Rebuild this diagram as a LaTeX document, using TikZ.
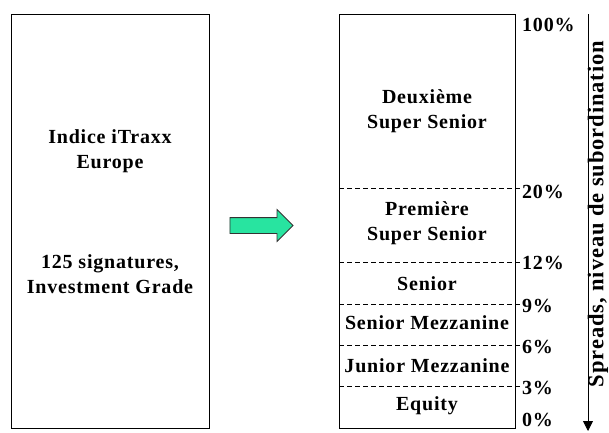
\documentclass[tikz,border=0pt]{standalone}
\usepackage{fontspec}
\setmainfont{Liberation Serif}[LetterSpace=4]
\usetikzlibrary{shapes.arrows,arrows.meta}
\definecolor{flecheverte}{RGB}{40,228,160}
\tikzset{
  texte/.style={font=\bfseries\fontsize{20}{25}\selectfont, align=center, inner sep=0pt},
  pourcent/.style={font=\bfseries\fontsize{20}{25}\selectfont, anchor=west, inner sep=0pt},
  tranche/.style={dash pattern=on 5pt off 3pt},
  boite/.style={draw, line width=1pt, inner sep=0pt},
}

\begin{document}
\begin{tikzpicture}[x=1pt,y=-1pt]
        \useasboundingbox (0,0) rectangle (609,432);
        % les deux boites
        \node[boite, minimum width=198, minimum height=414] (indice) at (110,221) {};
        \node[boite, minimum width=176, minimum height=414] (tranches) at (427,221) {};
        \node[texte] (nom) at (110,151) {Indice iTraxx\\Europe};
        \node[texte] (signatures) at (110,274) {125 signatures,\\Investment Grade};
        % fleche
        \node[single arrow, draw=black!80, line width=0.8pt, fill=flecheverte,
              minimum height=63, inner xsep=0pt, inner ysep=7.5pt,
              single arrow head extend=8pt] (fleche) at (257.5,225.5) {};
        % separations
        \draw[tranche] (339,188) -- (520,188);
        \draw[tranche] (339,262) -- (520,262);
        \draw[tranche] (339,304) -- (520,304);
        \draw[tranche] (339,345) -- (520,345);
        \draw[tranche] (339,386) -- (520,386);
        % tranches
        \node[texte] (deuxieme) at (427,111) {Deuxième\\Super Senior};
        \node[texte] (premiere) at (427,223) {Première\\Super Senior};
        \node[texte] (senior) at (427,284) {Senior};
        \node[texte] (seniormezz) at (427,323) {Senior Mezzanine};
        \node[texte] (juniormezz) at (427,366) {Junior Mezzanine};
        \node[texte] (equity) at (427,406) {Equity};
        % points d'attachement
        \node[pourcent] (p100) at (522,25) {100\%};
        \node[pourcent] (p20) at (522,192) {20\%};
        \node[pourcent] (p12) at (522,263) {12\%};
        \node[pourcent] (p9) at (522,306) {9\%};
        \node[pourcent] (p6) at (522,347) {6\%};
        \node[pourcent] (p3) at (522,388) {3\%};
        \node[pourcent] (p0) at (522,420) {0\%};
        % axe
        \coordinate (haut) at (588,14);
        \coordinate (bas) at (588,431);
        \draw[line width=0.8pt, -{Triangle[length=10pt,width=10pt]}] (haut) -- (bas);
        \node[font=\bfseries\fontsize{22.5}{25}\selectfont, rotate=90, inner sep=0pt] (axe) at (598,214) {Spreads, niveau de subordination};
    \end{tikzpicture}
\end{document}
